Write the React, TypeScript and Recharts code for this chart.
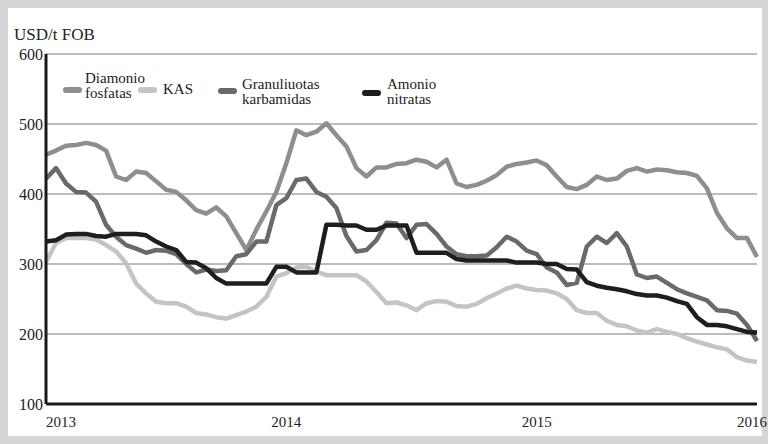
import React from 'react';
import { LineChart, Line, XAxis, YAxis, CartesianGrid } from 'recharts';

// ~10 day steps from Jan 2013 to Jan 2016
const steps = Array.from({ length: 72 }, (_, i) => i);

const dap = [
  456, 462, 469, 470, 473, 470, 462, 425, 420, 432,
  430, 418, 406, 403, 391, 377, 372, 381, 368, 344,
  320, 349, 375, 403, 444, 491, 484, 489, 501, 484,
  468, 437, 425, 438, 438, 443, 444, 449, 446, 438,
  449, 415, 410, 413, 419, 427, 439, 443, 445, 448,
  441, 425, 410, 407, 413, 425, 420, 422, 433, 437,
  432, 435, 434, 431, 430, 426, 408, 373, 351, 337,
  337, 310,
];

const kas = [
  303, 330, 337, 337, 337, 335, 327, 318, 301, 272,
  258, 246, 244, 244, 239, 230, 228, 224, 222, 227,
  232, 239, 253, 282, 287, 295, 296, 289, 284, 284,
  284, 284, 275, 260, 244, 245, 241, 234, 244, 247,
  246, 240, 239, 243, 251, 258, 265, 269, 265, 263,
  262, 258, 250, 234, 230, 230, 219, 213, 211, 205,
  202, 207, 203, 200, 194, 189, 185, 181, 178, 167,
  162, 160,
];

const urea = [
  422, 437, 415, 403, 402, 389, 356, 339, 327, 322,
  316, 320, 319, 314, 300, 288, 292, 290, 291, 311,
  314, 332, 332, 384, 394, 420, 422, 403, 396, 380,
  340, 318, 320, 334, 359, 358, 337, 356, 357, 343,
  325, 314, 311, 311, 312, 324, 339, 332, 319, 314,
  295, 288, 270, 273, 325, 339, 330, 344, 325, 285,
  280, 282, 273, 264, 258, 253, 248, 234, 233, 229,
  213, 190,
];

const an = [
  332, 334, 342, 343, 343, 340, 339, 343, 343, 343,
  341, 332, 325, 320, 303, 302, 294, 280, 272, 272,
  272, 272, 272, 296, 296, 288, 288, 288, 356, 356,
  355, 355, 349, 349, 355, 355, 355, 316, 316, 316,
  316, 307, 305, 305, 305, 305, 305, 302, 302, 302,
  300, 300, 293, 292, 274, 269, 266, 264, 261, 257,
  255, 255, 252, 247, 243, 224, 213, 213, 211, 207,
  203, 202,
];

const yearTicks = [0, 24, 49, 71];
const yearLabels = ['2013', '2014', '2015', '2016'];
const yTicks = [100, 200, 300, 400, 500, 600];

const data = steps.map((i) => ({ i, dap: dap[i], kas: kas[i], urea: urea[i], an: an[i] }));

const FONT = 'Liberation Serif, Times New Roman, DejaVu Serif, serif';
const TEXT = '#222';

const colors = {
  dap: '#8e8e8e',
  kas: '#c4c4c4',
  urea: '#6a6a6a',
  an: '#1e1e1e',
};

const XTick = (props: any) => {
  const { x, y, payload, index } = props;
  const idx = yearTicks.indexOf(payload.value);
  const last = index === yearTicks.length - 1;
  const anchor = index === 0 ? 'start' : last ? 'end' : 'middle';
  return (
    <text x={x} y={y} dx={last ? 10 : 0} dy="0.71em" textAnchor={anchor} fill={TEXT} fontSize={15} fontFamily={FONT}>
      {yearLabels[idx]}
    </text>
  );
};

const Swatch = ({ color, left, top }: { color: string; left: number; top: number }) => (
  <div style={{ position: 'absolute', left, top, width: 19, height: 6, borderRadius: 3, background: color }} />
);

const LegendText = ({ left, top, lines }: { left: number; top: number; lines: string[] }) => (
  <div style={{ position: 'absolute', left, top, fontFamily: FONT, fontSize: 15, lineHeight: '15px', color: TEXT, whiteSpace: 'nowrap' }}>
    {lines.map((l) => (
      <div key={l}>{l}</div>
    ))}
  </div>
);

export default function App() {
  return (
    <div style={{ position: 'absolute', left: 0, top: 0, width: 768, height: 444, background: '#d6d6d6', overflow: 'hidden', fontFamily: FONT }}>
      <div style={{ position: 'absolute', left: 8, top: 8, width: 754, height: 428, background: '#fff' }} />
      <div style={{ position: 'absolute', left: 0, top: 0 }}>
        <LineChart width={768} height={444} data={data} margin={{ top: 54, right: 11, bottom: 10, left: 0 }}>
          <CartesianGrid vertical={false} stroke="#a6a6a6" strokeWidth={1.5} />
          <XAxis
            dataKey="i"
            type="number"
            domain={[0, 71]}
            ticks={yearTicks}
            tick={<XTick />}
            tickLine={false}
            tickSize={0}
            tickMargin={12}
            height={30}
            axisLine={{ stroke: '#1a1a1a', strokeWidth: 3 }}
            interval={0}
          />
          <YAxis
            type="number"
            domain={[100, 600]}
            ticks={yTicks}
            width={46}
            tickLine={false}
            tickSize={0}
            tickMargin={3}
            axisLine={{ stroke: '#1a1a1a', strokeWidth: 3 }}
            tick={{ fill: TEXT, fontSize: 16, fontFamily: FONT }}
            interval={0}
          />
          <Line dataKey="kas" stroke={colors.kas} strokeWidth={4.5} dot={false} isAnimationActive={false} strokeLinejoin="round" />
          <Line dataKey="dap" stroke={colors.dap} strokeWidth={4.5} dot={false} isAnimationActive={false} strokeLinejoin="round" />
          <Line dataKey="urea" stroke={colors.urea} strokeWidth={4.5} dot={false} isAnimationActive={false} strokeLinejoin="round" />
          <Line dataKey="an" stroke={colors.an} strokeWidth={4.5} dot={false} isAnimationActive={false} strokeLinejoin="round" />
        </LineChart>
      </div>
      <div style={{ position: 'absolute', left: 14, top: 26, fontSize: 17, lineHeight: '17px', color: TEXT }}>
        USD/t FOB
      </div>
      <Swatch color={colors.dap} left={63} top={87} />
      <LegendText left={85} top={71} lines={['Diamonio', 'fosfatas']} />
      <Swatch color={colors.kas} left={138} top={87} />
      <LegendText left={163} top={82} lines={['KAS']} />
      <Swatch color={colors.urea} left={218} top={88} />
      <LegendText left={242} top={77} lines={['Granuliuotas', 'karbamidas']} />
      <Swatch color={colors.an} left={362} top={90} />
      <LegendText left={387} top={77} lines={['Amonio', 'nitratas']} />
    </div>
  );
}
